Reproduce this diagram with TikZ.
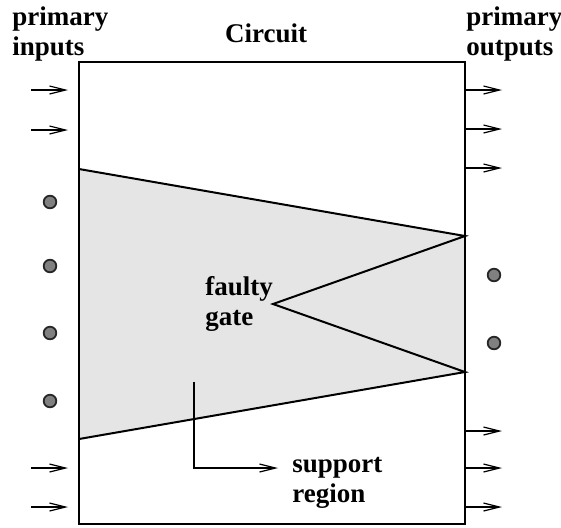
\documentclass[tikz,border=0pt]{standalone}
\usepackage{fontspec}
\setmainfont{Liberation Serif}
\usepackage{tikz}
\usetikzlibrary{arrows.meta}

\tikzset{
  lbl/.style={font=\bfseries\fontsize{13.5}{15}\selectfont, align=left, inner sep=0pt},
  sig/.style={line width=0.65pt, -{Straight Barb[length=8pt,width=4pt,line width=0.6pt]}},
  pin/.style={circle, draw=black!85, fill=gray, line width=0.9pt, inner sep=0pt, minimum size=6.3pt}
}

\begin{document}
\begin{tikzpicture}[x=0.5pt,y=-0.5pt]
            \useasboundingbox (0,0) rectangle (561,527);
            % support region
            \fill[gray!20] (79,169) -- (465,236) -- (465,372) -- (79,439) -- cycle;
            \draw[line width=1pt] (79,169) -- (465,236) -- (273,304) -- (465,372) -- (79,439);
            \draw[line width=1pt] (79,62) rectangle (465,524);
            \node[lbl, anchor=base west] (pin) at (12,55) {primary\\inputs};
            \node[lbl, anchor=base] (circ) at (266,42) {Circuit};
            \node[lbl, anchor=base west] (pout) at (466,55) {primary\\outputs};
            \node[lbl, anchor=base west] (faulty) at (205,325) {faulty\\gate};
            \node[lbl, anchor=base west] (supp) at (292,502) {support\\region};
            \foreach \y/\n in {90/1,130/2,468/3,507/4}{
              \coordinate (ia\n) at (31,\y); \coordinate (ib\n) at (68,\y);
              \draw[sig] (ia\n) -- (ib\n);
            }
            \foreach \y/\n in {90/1,129/2,168/3,431/4,468/5,507/6}{
              \coordinate (oa\n) at (465,\y); \coordinate (ob\n) at (502,\y);
              \draw[sig] (oa\n) -- (ob\n);
            }
            \node[pin] (l1) at (50,202) {};
            \node[pin] (l2) at (50,266) {};
            \node[pin] (l3) at (50,333) {};
            \node[pin] (l4) at (50,401) {};
            \node[pin] (r1) at (494,275) {};
            \node[pin] (r2) at (494,343) {};
            \coordinate (sa) at (194,382);
            \coordinate (sb) at (278,468);
            \draw[sig] (sa) |- (sb);
\end{tikzpicture}
\end{document}
